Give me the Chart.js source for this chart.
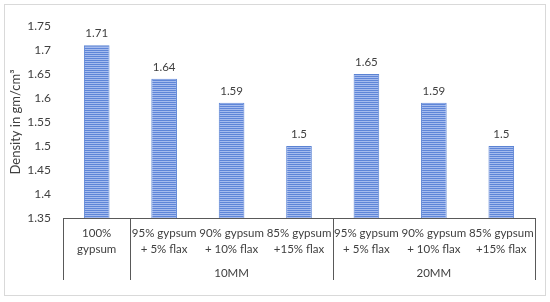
<!DOCTYPE html>
<html>
<head>
<meta charset="utf-8">
<script src="https://cdn.jsdelivr.net/npm/chart.js@4.4.1/dist/chart.umd.min.js"></script>
<style>
  html, body { margin: 0; padding: 0; background: #ffffff; }
  #wrap { width: 550px; height: 302px; position: relative; }
</style>
</head>
<body>
<div id="wrap"><canvas id="chart"></canvas></div>
<script>
/* --------------- Data --------------------- */
const categories = [
    ["100%", "gypsum"],
    ["95% gypsum", "+ 5% flax"],
    ["90% gypsum", "+ 10% flax"],
    ["85% gypsum", "+15% flax"],
    ["95% gypsum", "+ 5% flax"],
    ["90% gypsum", "+ 10% flax"],
    ["85% gypsum", "+15% flax"],
];
const groups = ["", "10MM", "10MM", "10MM", "20MM", "20MM", "20MM"];
const density = [1.71, 1.64, 1.59, 1.5, 1.65, 1.59, 1.5];
const yTicks = [1.35, 1.4, 1.45, 1.5, 1.55, 1.6, 1.65, 1.7, 1.75];

const FONT = "Lato, 'Liberation Sans', sans-serif";
const TEXT = "#404040";

/* --------------- Striped bar fill --------------------- */
const makeStripes = () => {
    const c = document.createElement("canvas");
    c.width = 4;
    c.height = 2;
    const g = c.getContext("2d");
    g.fillStyle = "#a6bcee";
    g.fillRect(0, 0, 4, 2);
    g.fillStyle = "#5f86d8";
    g.fillRect(0, 0, 4, 1);
    return g.createPattern(c, "repeat");
};

/* --------------- Extras: frame, axis lines, group labels, values --------------------- */
const extras = {
    id: "extras",
    beforeDraw(chart) {
        const ctx = chart.ctx;
        ctx.save();
        ctx.strokeStyle = "#d9d9d9";
        ctx.lineWidth = 1;
        ctx.strokeRect(4.5, 4.5, 541, 291);
        ctx.restore();
    },
    afterDraw(chart) {
        const ctx = chart.ctx;
        const area = chart.chartArea;
        const x = chart.scales.x;
        const bottom = 280;
        ctx.save();
        ctx.strokeStyle = "#595959";
        ctx.lineWidth = 1;

        // category axis line
        ctx.beginPath();
        ctx.moveTo(area.left, area.bottom + 0.5);
        ctx.lineTo(area.right, area.bottom + 0.5);
        ctx.stroke();

        // dividers where the group changes, plus both ends
        const edges = [area.left];
        for (let i = 1; i < groups.length; i++) {
            if (groups[i] !== groups[i - 1]) {
                edges.push((x.getPixelForValue(i - 1) + x.getPixelForValue(i)) / 2);
            }
        }
        edges.push(area.right);
        edges.forEach(px => {
            const p = Math.round(px) + 0.5;
            ctx.beginPath();
            ctx.moveTo(p, area.bottom);
            ctx.lineTo(p, bottom);
            ctx.stroke();
        });

        // group labels
        ctx.fillStyle = TEXT;
        ctx.font = "11.5px " + FONT;
        ctx.textAlign = "center";
        ctx.textBaseline = "middle";
        let start = 0;
        for (let i = 1; i <= groups.length; i++) {
            if (i === groups.length || groups[i] !== groups[start]) {
                if (groups[start]) {
                    const cx = (x.getPixelForValue(start) + x.getPixelForValue(i - 1)) / 2;
                    ctx.fillText(groups[start], cx, 273);
                }
                start = i;
            }
        }

        // value labels
        const meta = chart.getDatasetMeta(0);
        meta.data.forEach((bar, i) => {
            ctx.fillText(String(density[i]), bar.x, bar.y - 12);
        });
        ctx.restore();
    },
};

/* --------------- Chart --------------------- */
const ctx = document.getElementById("chart");
new Chart(ctx, {
    type: "bar",
    data: {
        labels: categories,
        datasets: [
            {
                data: density,
                backgroundColor: makeStripes(),
                borderColor: "#5b83d3",
                borderWidth: 1,
                categoryPercentage: 1,
                barPercentage: 0.38,
            },
        ],
    },
    plugins: [extras],
    options: {
        responsive: true,
        maintainAspectRatio: false,
        animation: false,
        layout: { padding: { left: 0, right: 15, top: 26, bottom: 0 } },
        plugins: {
            legend: { display: false },
            tooltip: { enabled: false },
        },
        scales: {
            x: {
                grid: { display: false, drawTicks: false },
                border: { display: false },
                ticks: {
                    color: TEXT,
                    font: { family: FONT, size: 11.5, lineHeight: 1.35 },
                    padding: 8,
                    maxRotation: 0,
                    autoSkip: false,
                },
                afterFit: (scale) => { scale.height = 84; },
            },
            y: {
                min: 1.35,
                max: 1.75,
                grid: { display: false, drawTicks: false },
                border: { display: false },
                afterBuildTicks: (scale) => { scale.ticks = yTicks.map(v => ({ value: v })); },
                ticks: {
                    color: TEXT,
                    font: { family: FONT, size: 12 },
                    padding: 12,
                    callback: (v) => String(Number(v.toFixed(2))),
                },
                title: {
                    display: true,
                    text: "Density in gm/cm³",
                    color: TEXT,
                    font: { family: FONT, size: 13 },
                    padding: { top: 8, bottom: 0 },
                },
                afterFit: (scale) => { scale.width = 63; },
            },
        },
    },
});
</script>
</body>
</html>
